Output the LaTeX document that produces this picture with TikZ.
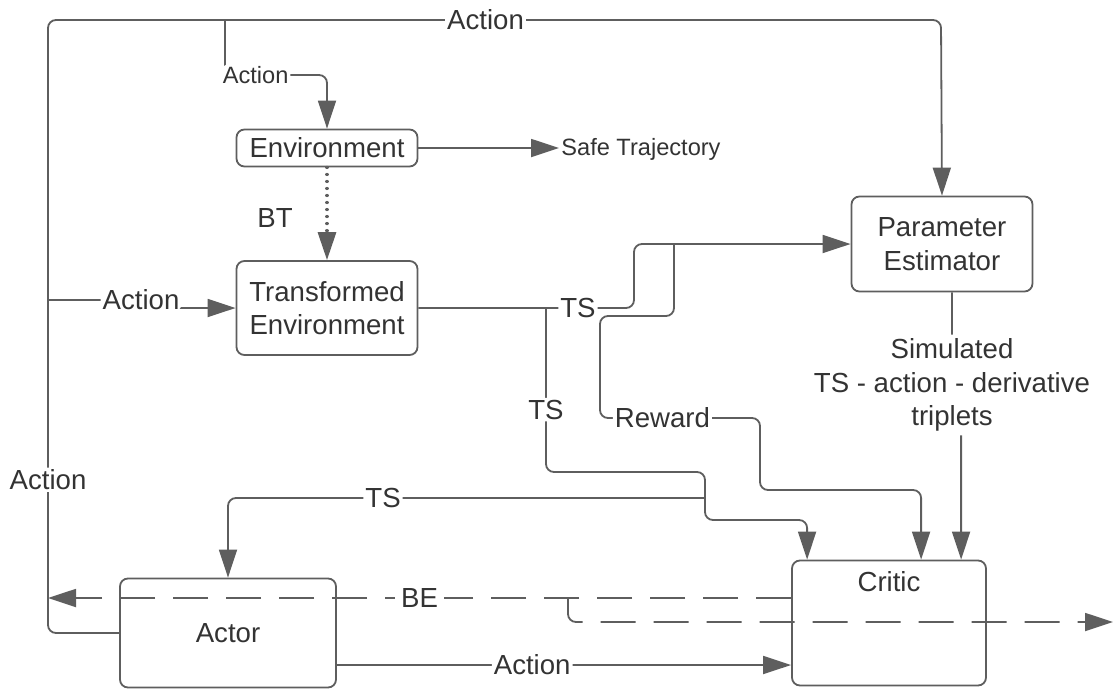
\documentclass[tikz,border=0pt]{standalone}
\usepackage{fontspec}
\setmainfont{Liberation Sans}
\usetikzlibrary{arrows.meta}
\definecolor{linegray}{HTML}{5E5E5E}
\definecolor{textgray}{HTML}{333333}
\tikzstyle{block} = [draw=linegray, line width=0.9pt, rectangle, rounded corners=4pt,
    text=textgray, align=center, font=\fontsize{13.8}{16.8}\selectfont]
\tikzstyle{txt} = [text=textgray, align=center, font=\fontsize{13.8}{16.8}\selectfont]
\tikzstyle{lbl} = [txt, fill=white, inner sep=1pt]
\tikzstyle{smalllbl} = [lbl, font=\fontsize{11.8}{14}\selectfont]
\tikzstyle{line} = [draw=linegray, line width=0.9pt, rounded corners=4pt]
\tikzstyle{bedash} = [line, dash pattern=on 17.5pt off 9pt]

\begin{document}
\begin{tikzpicture}[x=0.5pt, y=-0.5pt, >={Triangle[length=14pt,width=9pt]}]
    \useasboundingbox (0,0) rectangle (1115,692);
    % boxes
    \node [block, minimum width=90.5pt, minimum height=18.5pt] (env) at (327,148) {Environment};
    \node [block, minimum width=90.5pt, minimum height=47pt] (tenv) at (327,308) {Transformed\\Environment};
    \node [block, minimum width=90.5pt, minimum height=47.5pt] (pest) at (942,244) {Parameter\\Estimator};
    \node [block, minimum width=108pt, minimum height=54.5pt] (actor) at (228,633) {Actor};
    \node [block, minimum width=97pt, minimum height=62.5pt] (critic) at (889,623) {};
    \node [txt] (critictxt) at (889,582) {Critic};
    \node [smalllbl, anchor=west] (safe) at (559,149) {Safe Trajectory};
    % bends and free ends
    \coordinate (topleft) at (48,20);
    \coordinate (topright) at (941,20);
    \coordinate (envtap) at (225,20);
    \coordinate (tenvtap) at (48,300);
    \coordinate (tstap) at (546,308);
    \coordinate (rewtap) at (674,244);
    \coordinate (actortap) at (705,498);
    \coordinate (betap) at (568,598);
    \coordinate (beout) at (1113,622);
    \coordinate (critin1) at ([xshift=8pt]critic.north west);
    \coordinate (critin2) at ([xshift=65pt]critic.north west);
    \coordinate (critin3) at ([xshift=85pt]critic.north west);
    % connectors
    \draw [line,->] (actor.west) -- (topleft |- actor.west)
        -- node [lbl, pos=0.25] {Action} (topleft)
        -- node [lbl, pos=0.49] {Action} (topright) -- (pest.north);
    \draw [line,->] (envtap) -- (225,75) -- node [smalllbl, pos=0.3] {Action} (env.north |- 0,75) -- (env.north);
    \draw [line,->] (tenvtap) -- (141,300) node [lbl] {Action} -- (141,308) -- (tenv.west);
    \draw [line,->] (env.east) -- (env.east -| safe.west);
    \draw [line,->, line width=1.6pt, line cap=round, dash pattern=on 0.01pt off 3.5pt] (env.south)
        -- node [txt, pos=0.55, left=13pt] {BT} (tenv.north);
    \draw [line,->] (tenv.east) -- node [lbl, pos=0.74] {TS} (634,308) -- (634,244) -- (pest.west);
    \draw [line,->] (tstap) -- node [lbl, pos=0.62] {TS} (546,472) -- (705,472) -- (705,520)
        -- (critin1 |- 0,520) -- (critin1);
    \draw [line,->] (actortap) -- node [lbl, pos=0.675] {TS} (actor.north |- actortap) -- (actor.north);
    \draw [line,->] (rewtap) -- (674,316) -- (600,316) -- (600,418)
        -- node [lbl, pos=0.39] {Reward} (760,418) -- (760,490) -- (critin2 |- 0,490) -- (critin2);
    \draw [line,->] ([xshift=5pt]pest.south) -- (952,385)
        node [lbl, inner sep=2pt] (simlbl) {Simulated\\TS - action - derivative\\triplets}
        -- (critin3 |- simlbl) -- (critin3);
    \draw [bedash,->] ([yshift=12.5pt]critic.west) -- node [lbl, pos=0.5, inner sep=3pt] {BE} (topleft |- betap);
    \draw [bedash,->] (betap) -- (betap |- beout) -- (beout);
    \draw [line,->] ([yshift=-16pt]actor.east) -- node [lbl, pos=0.43] {Action} ([yshift=-16pt]actor.east -| critic.west);
\end{tikzpicture}
\end{document}
